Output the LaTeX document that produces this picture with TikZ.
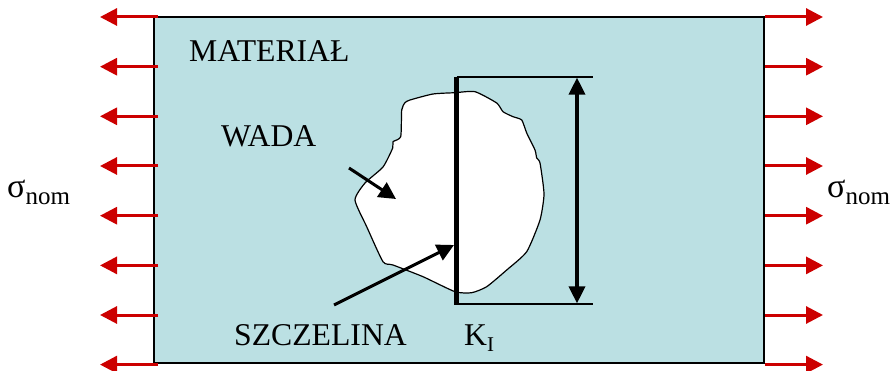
\documentclass[tikz,border=0pt]{standalone}
\usepackage{fontspec}
\setmainfont{Liberation Serif}
\usetikzlibrary{arrows.meta}
\definecolor{plate}{RGB}{187,224,227}
\definecolor{loadred}{RGB}{204,0,0}
\tikzset{
  load/.style={draw=loadred, line width=3pt, -{Triangle[length=17pt,width=17pt]}},
  pointer/.style={draw=black, line width=3pt, -{Triangle[length=17pt,width=17pt]}},
  dim/.style={draw=black, line width=3.5pt, {Triangle[length=17pt,width=16pt]}-{Triangle[length=17pt,width=16pt]}},
  lbl/.style={anchor=base west, inner sep=0pt, font=\fontsize{31.7}{34}\selectfont},
  sig/.style={anchor=base west, inner sep=0pt, font=\fontsize{34}{36}\selectfont}
}
\begin{document}
\begin{tikzpicture}[x=1pt,y=-1pt]
\useasboundingbox (0,0) rectangle (894,371);
\node (plate) [draw=black, line width=1.3pt, fill=plate, minimum width=610pt, minimum height=346pt, inner sep=0pt] at (459,190) {};
% defect blob
\draw[fill=white, line width=1.2pt, line join=round] plot[smooth cycle, tension=0.35] coordinates {
 (405,102.7) (401.7,110) (400.7,136.7) (393,141.7) (392.7,148) (383,167) (365,183) (355,200)
 (366.7,226.7) (383,261.7) (393,265) (423,276.7) (455,291.7) (471.7,292.7) (486.7,286.7)
 (506.7,270) (526.7,251.7) (540,220) (544,194) (540,163) (536.7,158) (535,150) (526.7,133)
 (521.7,120) (513,116.7) (503,111.7) (496.7,103) (475,91.7) (455,92.7) (433,94) (410,100)};
% crack and extension lines
\coordinate (ct) at (456.5,77);
\coordinate (cb) at (456.5,305);
\coordinate (et) at (593,77);
\coordinate (eb) at (593,304);
\draw[line width=1.2pt] (ct) -- (et);
\draw[line width=1.2pt] (cb |- eb) -- (eb);
\draw[line width=4.5pt] (ct) -- (cb);
\coordinate (dt) at (577,77.6);
\coordinate (db) at (577,303.4);
\draw[dim] (dt) -- (db);
% pointers
\coordinate (wa) at (349,168);
\coordinate (wb) at (396,199);
\draw[pointer] (wa) -- (wb);
\coordinate (sa) at (334,305);
\coordinate (sb) at (454,245);
\draw[pointer] (sa) -- (sb);
% load arrows
\foreach \i/\y in {1/17,2/66.7,3/116.3,4/166,5/215.7,6/265.4,7/315,8/364.6}{
  \coordinate (l\i a) at (158,\y);
  \coordinate (l\i b) at (100,\y);
  \coordinate (r\i a) at (765,\y);
  \coordinate (r\i b) at (823,\y);
  \draw[load] (l\i a) -- (l\i b);
  \draw[load] (r\i a) -- (r\i b);
}
% labels
\node (mat) [lbl] at (189,62) {MATERIAŁ};
\node (wada) [lbl] at (221,147) {WADA};
\node (szcz) [lbl] at (234,345) {SZCZELINA};
\node (ki) [lbl] at (464,345) {K\raisebox{-6pt}{\fontsize{21}{23}\selectfont I}};
\node (sl) [sig] at (7,198) {σ\raisebox{-7pt}{\fontsize{25}{27}\selectfont nom}};
\node (sr) [sig] at (827,198) {σ\raisebox{-7pt}{\fontsize{25}{27}\selectfont nom}};
\end{tikzpicture}
\end{document}
